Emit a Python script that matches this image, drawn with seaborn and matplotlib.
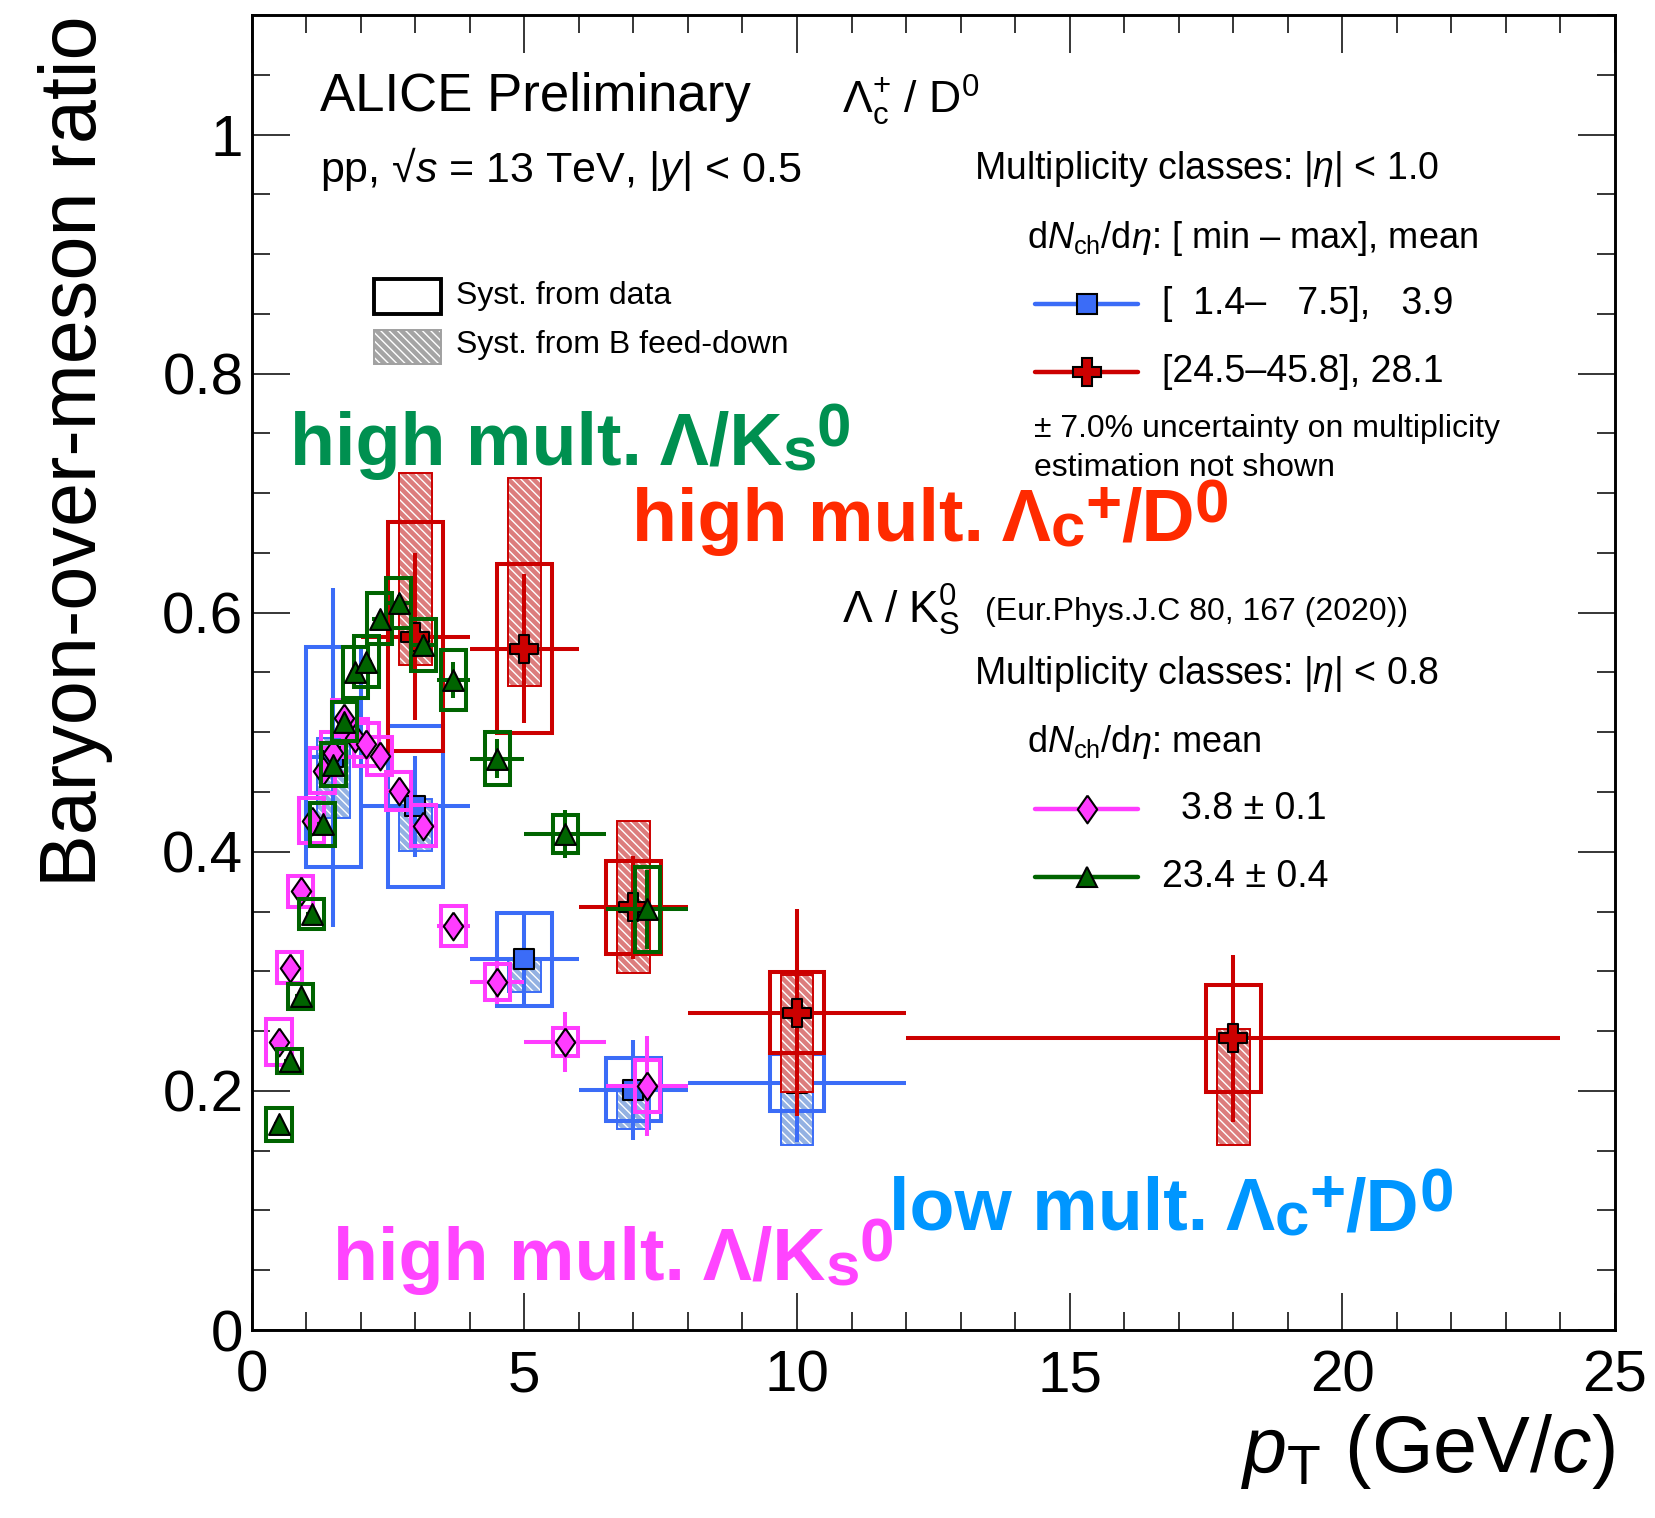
import numpy as np
import pandas as pd
import matplotlib
matplotlib.use("Agg")
import matplotlib.pyplot as plt
from matplotlib.patches import Rectangle
from matplotlib.ticker import MultipleLocator
import seaborn as sns

# ---------------- data ----------------
# Lambda_c+/D0, low multiplicity (blue squares)
lc_low_pt = [1.5, 3.0, 5.0, 7.0, 10.0]
lc_low_pt_err = [0.5, 1.0, 1.0, 1.0, 2.0]
lc_low_ratio = [0.479, 0.438, 0.310, 0.201, 0.207]
lc_low_stat = [0.142, 0.042, 0.039, 0.042, 0.050]
lc_low_syst = [0.092, 0.0675, 0.039, 0.0265, 0.024]
lc_low_fd_lo = [0.051, 0.037, 0.0275, 0.033, 0.052]
lc_low_fd_hi = [0.016, 0.006, 0.0, 0.0, 0.009]

# Lambda_c+/D0, high multiplicity (red crosses)
lc_high_pt = [3.0, 5.0, 7.0, 10.0, 18.0]
lc_high_pt_err = [1.0, 1.0, 1.0, 2.0, 6.0]
lc_high_ratio = [0.580, 0.570, 0.3535, 0.2654, 0.244]
lc_high_stat = [0.070, 0.062, 0.043, 0.0867, 0.070]
lc_high_syst = [0.0955, 0.071, 0.039, 0.034, 0.045]
lc_high_fd_lo = [0.024, 0.031, 0.0545, 0.066, 0.089]
lc_high_fd_hi = [0.137, 0.143, 0.0725, 0.0316, 0.008]

# Lambda/K0S (Eur.Phys.J.C 80, 167 (2020))
lk_pt = [0.5, 0.7, 0.9, 1.1, 1.3, 1.5, 1.7, 1.9, 2.1, 2.35, 2.7, 3.15, 3.7, 4.5, 5.75, 7.25]
lk_pt_err = [0.1, 0.1, 0.1, 0.1, 0.1, 0.1, 0.1, 0.1, 0.1, 0.15, 0.2, 0.25, 0.3, 0.5, 0.75, 0.75]

lk_low_ratio = [0.241, 0.303, 0.367, 0.426, 0.468, 0.483, 0.512, 0.495, 0.490, 0.480,
                0.451, 0.422, 0.338, 0.291, 0.241, 0.204]
lk_low_stat = [0.004, 0.004, 0.004, 0.004, 0.004, 0.004, 0.004, 0.004, 0.004, 0.005,
               0.005, 0.006, 0.008, 0.018, 0.025, 0.042]
lk_low_syst = [0.019, 0.013, 0.013, 0.019, 0.019, 0.017, 0.015, 0.016, 0.018, 0.016,
               0.016, 0.017, 0.017, 0.015, 0.012, 0.022]

lk_high_ratio = [0.172, 0.225, 0.279, 0.348, 0.423, 0.473, 0.509, 0.550, 0.559, 0.595,
                 0.608, 0.573, 0.544, 0.478, 0.415, 0.352]
lk_high_stat = [0.004, 0.004, 0.004, 0.004, 0.004, 0.004, 0.004, 0.005, 0.005, 0.006,
                0.007, 0.008, 0.015, 0.016, 0.020, 0.033]
lk_high_syst = [0.014, 0.0104, 0.0104, 0.0125, 0.018, 0.018, 0.016, 0.021, 0.0215, 0.0215,
                0.021, 0.0215, 0.025, 0.022, 0.016, 0.0355]

x_ticks = [0, 5, 10, 15, 20, 25]
y_ticks = [0, 0.2, 0.4, 0.6, 0.8, 1.0]
y_tick_labels = ["0", "0.2", "0.4", "0.6", "0.8", "1"]

# ---------------- style ----------------
sns.set_theme(style="ticks")
FONT = ["Liberation Sans", "DejaVu Sans"]
plt.rcParams["font.family"] = FONT
plt.rcParams["mathtext.fontset"] = "custom"
plt.rcParams["mathtext.rm"] = "Liberation Sans"
plt.rcParams["mathtext.it"] = "Liberation Sans:italic"
plt.rcParams["mathtext.bf"] = "Liberation Sans:bold"
plt.rcParams["mathtext.default"] = "regular"
plt.rcParams["hatch.linewidth"] = 1.0

BLUE = "#3b6cf7"
BLUE_FD = "#93b1e2"
RED = "#cc0000"
RED_FD = "#dc7d7d"
PINK = "#ff3cff"
GREEN = "#006400"
LW = 2.9

W, H = 1656, 1518
fig = plt.figure(figsize=(W / 100, H / 100), dpi=100)
AX_L, AX_R, AX_T, AX_B = 251.7, 1615.0, 15.0, 1330.0
ax = fig.add_axes([AX_L / W, 1 - AX_B / H, (AX_R - AX_L) / W, (AX_B - AX_T) / H])
ax.set_xlim(0, 25)
ax.set_ylim(0, 1.1)


def axc(px, py):
    """pixel position on the canvas -> axes fraction"""
    return (px - AX_L) / (AX_R - AX_L), (AX_B - py) / (AX_B - AX_T)


# diamond with ROOT-like proportions
DIAMOND = [(0, 1), (0.7, 0), (0, -1), (-0.7, 0), (0, 1)]
HATCH = "\\\\\\\\"


def draw_series(pt, pt_err, ratio, stat, syst, color, marker, size, z,
                box_hw, fd=None, fd_color=None):
    if fd is not None:
        lo, hi = fd
        for x, y, l, h in zip(pt, ratio, lo, hi):
            ax.add_patch(Rectangle((x - 0.3, y - l), 0.6, l + h, facecolor=fd_color,
                                   edgecolor="white", hatch=HATCH, lw=0, zorder=z))
            ax.add_patch(Rectangle((x - 0.3, y - l), 0.6, l + h, fill=False,
                                   edgecolor=color, lw=1.4, zorder=z + 0.1))
    for x, y, s in zip(pt, ratio, syst):
        ax.add_patch(Rectangle((x - box_hw, y - s), 2 * box_hw, 2 * s, fill=False,
                               edgecolor=color, lw=LW, zorder=z + 0.2))
    ax.errorbar(pt, ratio, xerr=pt_err, yerr=stat, fmt="none", ecolor=color,
                elinewidth=LW, capsize=0, zorder=z + 0.3)
    df = pd.DataFrame({"pt": pt, "ratio": ratio})
    sns.scatterplot(data=df, x="pt", y="ratio", ax=ax, marker=marker, s=size ** 2,
                    color=color, edgecolor="black", linewidth=1.5, zorder=z + 0.4,
                    legend=False)


draw_series(lc_low_pt, lc_low_pt_err, lc_low_ratio, lc_low_stat, lc_low_syst, BLUE, "s",
            15, 2, 0.5, fd=(lc_low_fd_lo, lc_low_fd_hi), fd_color=BLUE_FD)
draw_series(lc_high_pt, lc_high_pt_err, lc_high_ratio, lc_high_stat, lc_high_syst, RED, "P",
            20, 4, 0.5, fd=(lc_high_fd_lo, lc_high_fd_hi), fd_color=RED_FD)
draw_series(lk_pt, lk_pt_err, lk_low_ratio, lk_low_stat, lk_low_syst, PINK, DIAMOND,
            20, 6, 0.23)
draw_series(lk_pt, lk_pt_err, lk_high_ratio, lk_high_stat, lk_high_syst, GREEN, "^",
            15, 8, 0.23)

# ---------------- axes ----------------
ax.set_xticks(x_ticks)
ax.set_xticklabels([str(t) for t in x_ticks])
ax.set_yticks(y_ticks)
ax.set_yticklabels(y_tick_labels)
ax.xaxis.set_minor_locator(MultipleLocator(1))
ax.yaxis.set_minor_locator(MultipleLocator(0.05))
ax.tick_params(which="both", direction="in", top=True, right=True, width=1.1,
               colors="black", labelsize=42)
ax.tick_params(which="major", length=27)
ax.tick_params(which="minor", length=13)
ax.tick_params(axis="x", which="major", pad=14)
ax.tick_params(axis="y", which="major", pad=6)
for sp in ax.spines.values():
    sp.set_linewidth(2.1)
    sp.set_color("black")
ax.grid(False)
ax.set_facecolor("white")

ax.set_ylabel("Baryon-over-meson ratio", fontsize=57, loc="top", color="black")
ax.yaxis.set_label_coords(-0.102, 1.0)
ax.set_xlabel(r"$\mathit{p}_{\rm T}$ (GeV/$\mathit{c}$)", fontsize=57, loc="right",
              color="black")
ax.xaxis.set_label_coords(1.0, -0.062)


# ---------------- texts ----------------
def put(px, py, s, size, **kw):
    x, y = axc(px, py)
    kw.setdefault("va", "center")
    kw.setdefault("ha", "left")
    return ax.text(x, y, s, transform=ax.transAxes, fontsize=size,
                   color=kw.pop("color", "black"), clip_on=False, zorder=30, **kw)


put(320, 97, "ALICE Preliminary", 38)
put(320, 169, "pp, √$\\mathit{s}$ = 13 TeV, |$\\mathit{y}$| < 0.5", 31)
put(842, 100, "Λ$_{\\rm c}^{+}$ / D$^{0}$", 32)
put(974, 169, "Multiplicity classes: |$\\mathit{η}$| < 1.0", 27)
put(1027, 238, "d$\\mathit{N}_{\\rm ch}$/d$\\mathit{η}$: [ min – max], mean", 26)
put(1162, 304, "[  1.4–   7.5],   3.9", 27)
put(1162, 372, "[24.5–45.8], 28.1", 27)
put(1034, 429, "± 7.0% uncertainty on multiplicity", 23)
put(1034, 468, "estimation not shown", 23)
put(842, 610, "Λ / K$^{0}_{\\rm S}$", 32)
put(985, 612, "(Eur.Phys.J.C 80, 167 (2020))", 23)
put(974, 674, "Multiplicity classes: |$\\mathit{η}$| < 0.8", 27)
put(1027, 742, "d$\\mathit{N}_{\\rm ch}$/d$\\mathit{η}$: mean", 26)
put(1181, 809, "3.8 ± 0.1", 27)
put(1162, 877, "23.4 ± 0.4", 27)
put(456, 296, "Syst. from data", 23)
put(456, 345, "Syst. from B feed-down", 23)

# legend glyphs
for py, col, mk, ms in [(304, BLUE, "s", 15), (372, RED, "P", 20),
                        (809, PINK, DIAMOND, 20), (877, GREEN, "^", 15)]:
    x0, y0 = axc(1035, py)
    x1, _ = axc(1138, py)
    xm, _ = axc(1087, py)
    ax.plot([x0, x1], [y0, y0], transform=ax.transAxes, color=col, lw=3.2, clip_on=False,
            zorder=30)
    ax.plot([xm], [y0], transform=ax.transAxes, marker=mk, ms=ms, color=col,
            markeredgecolor="black", markeredgewidth=1.5, clip_on=False, zorder=31)

bx0, by0 = axc(374, 314)
bx1, by1 = axc(441, 279)
ax.add_patch(Rectangle((bx0, by0), bx1 - bx0, by1 - by0, transform=ax.transAxes,
                       fill=False, edgecolor="black", lw=2.8, clip_on=False, zorder=30))
bx0, by0 = axc(374, 364)
bx1, by1 = axc(441, 330)
ax.add_patch(Rectangle((bx0, by0), bx1 - bx0, by1 - by0, transform=ax.transAxes,
                       facecolor="#a4a4a4", edgecolor="white", hatch=HATCH, lw=0,
                       clip_on=False, zorder=30))
ax.add_patch(Rectangle((bx0, by0), bx1 - bx0, by1 - by0, transform=ax.transAxes,
                       fill=False, edgecolor="#a0a0a0", lw=1.4, clip_on=False, zorder=30))

# coloured annotations, built piece by piece so that sub/superscripts sit
# close to the baseline
renderer = fig.canvas.get_renderer()


def rich(px, py, parts, size, color):
    em = size * 100 / 72
    x_pix = px
    for s, kind in parts:
        fs = size if kind == "n" else size * 0.84
        dy = {"n": 0.0, "sub": -0.08 * em, "sup": 0.25 * em}[kind]
        t = put(x_pix, py - dy, s, fs, color=color, weight="bold", va="baseline")
        x_pix = t.get_window_extent(renderer).x1


rich(290, 465, [("high mult. Λ/K", "n"), ("s", "sub"), ("0", "sup")], 53, "#009050")
rich(632, 541, [("high mult. Λ", "n"), ("c", "sub"), ("+", "sup"), ("/D", "n"),
                ("0", "sup")], 53, "#ff2a00")
rich(889, 1230, [("low mult. Λ", "n"), ("c", "sub"), ("+", "sup"), ("/D", "n"),
                 ("0", "sup")], 53, "#0096ff")
rich(333, 1280, [("high mult. Λ/K", "n"), ("s", "sub"), ("0", "sup")], 53, "#ff44ff")

fig.savefig("out.png", dpi=100, facecolor="white")
